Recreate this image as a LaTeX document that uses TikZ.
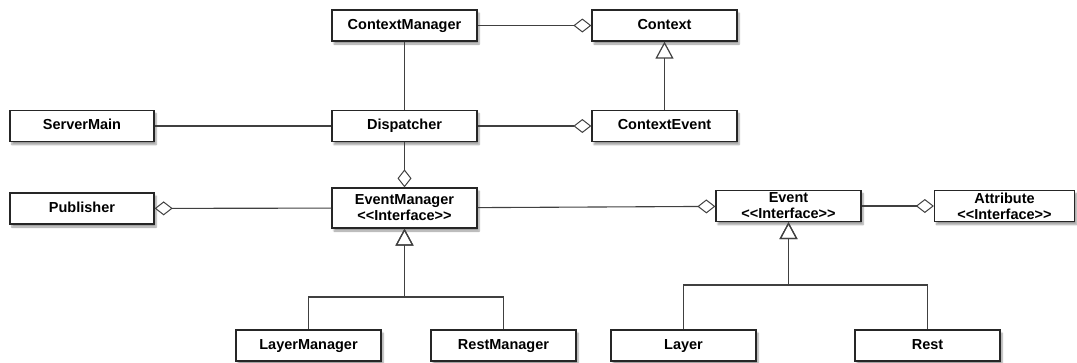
\documentclass[tikz,border=0pt]{standalone}
\usepackage{fontspec}
\newfontfamily\umlfont{Liberation Sans}
\usetikzlibrary{arrows.meta,shadows.blur}

\begin{document}
\begin{tikzpicture}[x=1pt,y=-1pt,
    font=\umlfont\bfseries\fontsize{14.5}{16}\selectfont,
    cls/.style={draw=black!85,line width=1.3pt,fill=white,minimum width=145pt,minimum height=31pt,
      inner sep=0pt,align=center,text height=10.5pt,text depth=3pt,
      blur shadow={shadow xshift=2pt,shadow yshift=-3pt,shadow opacity=40,shadow blur steps=6}},
    iface/.style={cls,text height=,text depth=},
    link/.style={draw=black!75,line width=1.1pt},
    agg/.style={link,-{Diamond[open,length=18pt,width=14pt,line width=1pt]}},
    inh/.style={link,-{Triangle[open,length=17pt,width=18pt,line width=1.2pt]}}
  ]
  \useasboundingbox (0,0) rectangle (1077,362);

  % classes
  \node[cls] (cmgr) at (404.5,25.5) {ContextManager};
  \node[cls] (ctx)  at (664.5,25.5) {Context};
  \node[cls,minimum width=144pt] (srv) at (82,126) {ServerMain};
  \node[cls] (disp) at (404.5,126) {Dispatcher};
  \node[cls] (cev)  at (664.5,126) {ContextEvent};
  \node[cls,minimum width=144pt] (pub) at (82,208.5) {Publisher};
  \node[iface,minimum height=40pt] (emgr) at (404.5,208) {EventManager\\<<Interface>>};
  \node[iface] (evt)  at (788.5,206) {Event\\<<Interface>>};
  \node[iface,minimum width=140pt] (attr) at (1004.5,206) {Attribute\\<<Interface>>};
  \node[cls] (lmgr) at (308.5,345.5) {LayerManager};
  \node[cls] (rmgr) at (503.5,345.5) {RestManager};
  \node[cls] (lay)  at (683.5,345.5) {Layer};
  \node[cls] (rest) at (927.5,345.5) {Rest};

  \coordinate (emj) at (404.5,297);
  \coordinate (evj) at (788.5,285);

  % associations
  \draw[agg] (cmgr) -- (ctx);
  \draw[link] (cmgr) -- (disp);
  \draw[link] (srv) -- (disp);
  \draw[agg] (disp) -- (cev);
  \draw[inh] (cev) -- (ctx);
  \draw[agg] (disp) -- (emgr);
  \draw[agg] (emgr) -- (pub);
  \draw[agg] (emgr) -- (evt);
  \draw[agg] (evt) -- (attr);

  % inheritance
  \draw[inh] (lmgr.north) |- (emj) -- (emgr.south);
  \draw[inh] (rmgr.north) |- (emj) -- (emgr.south);
  \draw[inh] (lay.north) |- (evj) -- (evt.south);
  \draw[inh] (rest.north) |- (evj) -- (evt.south);
\end{tikzpicture}
\end{document}
